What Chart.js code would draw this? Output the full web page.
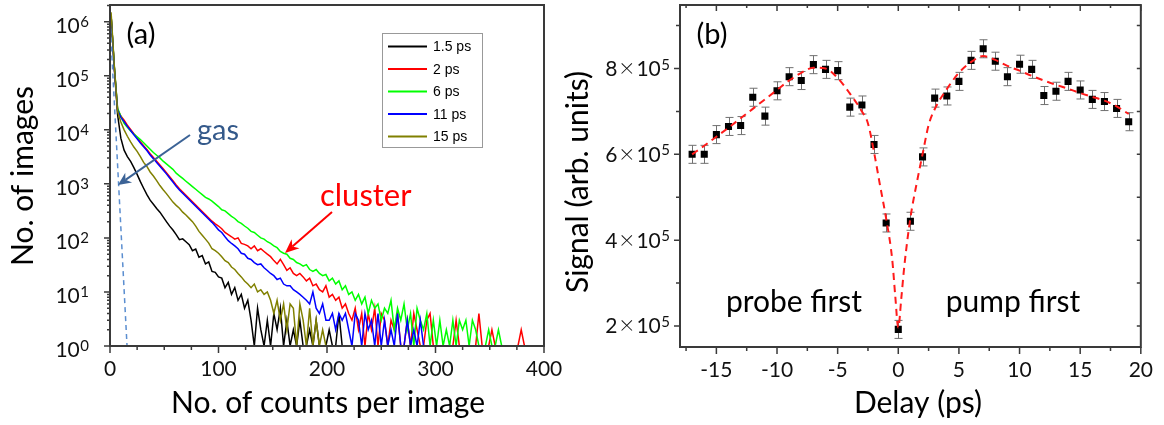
<!DOCTYPE html>
<html>
<head>
<meta charset="utf-8">
<title>Cluster histograms and delay scan</title>
<script src="https://cdn.jsdelivr.net/npm/chart.js@4.4.1/dist/chart.umd.min.js"></script>
<style>
  body { margin: 0; background: #fff; }
  #wrap { position: relative; width: 1164px; height: 425px; overflow: hidden; }
  .panel { position: absolute; top: 0; height: 425px; }
</style>
</head>
<body>
<div id="wrap">
  <div class="panel" style="left:0;width:580px"><canvas id="histChart"></canvas></div>
  <div class="panel" style="left:550px;width:614px"><canvas id="delayChart"></canvas></div>
</div>
<script>
// ---- panel (a): histograms of counts per image ----
// bin centres (No. of counts per image), one value every 3 counts
const countBins = Array.from({ length: 129 }, (_, i) => 1 + 3 * i);

const seriesLabels = ['1.5 ps', '2 ps', '6 ps', '11 ps', '15 ps'];
const seriesColors = ['#000000', '#ff0000', '#00ff00', '#0000ff', '#808000'];

const images1p5ps = [1300000, 140000, 19000, 7000, 4200, 3200, 2600, 2000, 1500, 1100,
  830, 630, 500, 420, 350, 300, 245, 200, 165, 140,
  115, 93, 96, 85, 75, 58, 62, 44, 47, 33,
  36, 24, 23, 19, 18, 12, 15, 9, 12, 7,
  9, 5, 7, 3, 1, 5, 2, 1, 3, 1,
  4, 2, 5, 1, 3, 1, 2, 1, 3, 1,
  1, 2, 1, 3, 1, 1, 1, 2, 1, 1,
  4, 1];

const images2ps = [1300000, 140000, 24000, 18000, 15000, 12200, 10200, 8500, 7200, 6000,
  5100, 4350, 3600, 3080, 2620, 2230, 1900, 1610, 1350, 1140,
  950, 810, 705, 615, 535, 466, 406, 354, 308, 268,
  234, 204, 182, 166, 148, 126, 115, 105, 95, 100,
  79, 76, 71, 63, 71, 58, 63, 56, 50, 45,
  38, 33, 40, 32, 25, 28, 22, 20, 22, 19,
  16, 18, 13, 14, 11, 10, 13, 8, 9, 7,
  8, 5, 6, 4, 3, 5, 2, 4, 1, 4,
  2, 5, 1, 4, 3, 1, 3, 2, 4, 1,
  1, 3, 1, 4, 2, 1, 1, 3, 4, 1,
  1, 1, 1, 1, 1, 1, 3, 1, 1, 1,
  1, 1, 1, 4, 1, 1, 1, 2, 1, 1,
  1, 1, 1, 1, 1, 1, 2, 1];

const images6ps = [1300000, 145000, 25000, 17800, 13200, 11200, 9550, 8300, 7400, 6600,
  5750, 5000, 4370, 3800, 3390, 3020, 2630, 2340, 2090, 1860,
  1580, 1410, 1260, 1120, 1000, 890, 794, 708, 631, 562,
  525, 479, 427, 380, 331, 316, 282, 251, 229, 200,
  186, 166, 151, 132, 126, 112, 100, 95, 85, 79,
  71, 66, 56, 52, 50, 42, 40, 35, 33, 30,
  32, 26, 24, 26, 22, 20, 21, 16, 18, 14,
  16, 11, 13, 9, 10, 7, 9, 6, 8, 4,
  7, 5, 6, 3, 5, 4, 7, 2, 5, 3,
  6, 2, 4, 1, 5, 3, 2, 4, 1, 3,
  1, 3, 1, 2, 1, 3, 1, 3, 2, 3,
  1, 3, 2, 1, 1, 1, 2, 1, 1, 2,
  1, 1, 1, 1, 1, 1, 1, 1];

const images11ps = [1250000, 135000, 23000, 17000, 14200, 11600, 9700, 8100, 6850, 5700,
  4850, 4130, 3420, 2930, 2490, 2120, 1800, 1530, 1280, 1080,
  900, 770, 670, 585, 510, 443, 386, 336, 293, 255,
  222, 194, 166, 141, 126, 105, 89, 79, 71, 63,
  52, 50, 42, 40, 35, 32, 33, 28, 25, 22,
  20, 17, 18, 14, 13, 13, 11, 10, 9, 8,
  7, 6, 10, 5, 4, 6, 3, 3, 4, 2,
  4, 3, 4, 2, 1, 4, 3, 1, 4, 2,
  3, 1, 4, 1, 3, 1, 2, 1, 4, 1,
  1, 3, 1, 2, 1, 3, 1];

const images15ps = [1500000, 150000, 22000, 14000, 10000, 7600, 6000, 4800, 4000, 3200,
  2500, 2100, 1660, 1400, 1150, 930, 780, 660, 550, 460,
  400, 355, 300, 265, 230, 200, 165, 132, 112, 95,
  80, 63, 58, 52, 45, 38, 35, 29, 26, 22,
  19, 16, 14, 12, 14, 10, 11, 9, 10, 7,
  4, 7, 3, 6, 2, 6, 5, 1, 6, 3,
  1, 5, 1, 3, 1, 2, 1];

const histSeries = [images1p5ps, images2ps, images6ps, images11ps, images15ps];

// gas contribution (dashed guide)
const gasCounts = [0, 15.7];
const gasImages = [1100000, 1];

const histTicks = [0, 100, 200, 300, 400];
const histDecades = [0, 1, 2, 3, 4, 5, 6];

// ---- panel (b): signal vs delay ----
const delays = [-17, -16, -15, -14, -13, -12, -11, -10, -9, -8, -7, -6, -5, -4, -3, -2, -1,
  0, 1, 2, 3, 4, 5, 6, 7, 8, 9, 10, 11, 12, 13, 14, 15, 16, 17, 18, 19];
const signal = [600000, 600000, 646000, 665000, 667000, 733000, 689000, 748000, 781000, 772000,
  809000, 798000, 795000, 710000, 715000, 623000, 440000,
  192000, 444000, 594000, 731000, 736000, 770000, 819000, 846000, 817000, 781000,
  810000, 798000, 737000, 747000, 770000, 750000, 728000, 723000, 707000, 676000];
const signalErr = [21000, 21000, 21000, 21000, 21000, 21000, 21000, 21000, 21000, 21000,
  21000, 21000, 21000, 21000, 21000, 21000, 21000,
  21000, 21000, 21000, 21000, 21000, 21000, 21000, 21000, 21000, 21000,
  21000, 21000, 21000, 21000, 21000, 21000, 21000, 21000, 21000, 21000];

const fitDelay = [-17, -16, -15, -14, -13, -12, -11, -10, -9, -8, -7, -6, -5, -4, -3, -2.5, -2, -1.5,
  -1, -0.5, -0.25, 0, 0.25, 0.5, 1, 1.5, 2, 2.5, 3, 4, 5, 6, 7, 8, 9, 10, 11, 12, 13, 14, 15, 16, 17, 18, 19];
const fitSignal = [600000, 620000, 641000, 662000, 684000, 706000, 728000, 750000, 772000, 790000,
  802000, 800000, 778000, 742000, 700000, 672000, 605000, 527000,
  450000, 355000, 270000, 196000, 265000, 340000, 452000, 530000, 600000, 668000, 705000, 752000,
  790000, 815000, 829000, 820000, 806000, 795000, 783000, 772000, 762000, 753000, 743000, 734000,
  725000, 712000, 694000];

const delayTicks = [-15, -10, -5, 0, 5, 10, 15, 20];
const signalTicks = [200000, 400000, 600000, 800000];

Chart.defaults.font.family = 'Lato';

function toPoints(xs, ys) {
  return ys.map((y, i) => ({ x: xs[i], y: y }));
}

function drawArrow(ctx, x1, y1, x2, y2, color, len, half) {
  const a = Math.atan2(y2 - y1, x2 - x1);
  const c = Math.cos(a), s = Math.sin(a);
  ctx.strokeStyle = color;
  ctx.fillStyle = color;
  ctx.lineWidth = 2;
  ctx.beginPath();
  ctx.moveTo(x1, y1);
  ctx.lineTo(x2 - len * 0.7 * c, y2 - len * 0.7 * s);
  ctx.stroke();
  ctx.beginPath();
  ctx.moveTo(x2, y2);
  ctx.lineTo(x2 - len * c + half * s, y2 - len * s - half * c);
  ctx.lineTo(x2 - len * 0.7 * c, y2 - len * 0.7 * s);
  ctx.lineTo(x2 - len * c - half * s, y2 - len * s + half * c);
  ctx.closePath();
  ctx.fill();
}

// "10^n" or "m×10^n" labels, right aligned
function drawPowLabel(ctx, mantissa, exponent, right, tickY, baseOff, supOff) {
  ctx.fillStyle = '#111';
  ctx.textBaseline = 'alphabetic';
  ctx.font = '15px Lato';
  const supW = ctx.measureText(exponent).width;
  ctx.textAlign = 'left';
  ctx.fillText(exponent, right - supW, tickY + supOff);
  ctx.font = '21px Lato';
  ctx.textAlign = 'right';
  let x = right - supW - 0.5;
  ctx.fillText('10', x, tickY + baseOff);
  if (mantissa) {
    x -= ctx.measureText('10').width + 2;
    ctx.font = '300 26px Lato';
    ctx.fillText('\u00d7', x, tickY + baseOff + 1);
    x -= ctx.measureText('\u00d7').width + 2;
    ctx.font = '21px Lato';
    ctx.fillText(mantissa, x, tickY + baseOff);
  }
}

function drawRotated(ctx, text, x, y, font) {
  ctx.save();
  ctx.translate(x, y);
  ctx.rotate(-Math.PI / 2);
  ctx.font = font;
  ctx.textAlign = 'center';
  ctx.textBaseline = 'alphabetic';
  ctx.fillText(text, 0, 0);
  ctx.restore();
}

const histDecor = {
  id: 'histDecor',
  afterDraw(chart) {
    const { ctx, chartArea: a, scales: { x, y } } = chart;
    ctx.save();
    ctx.strokeStyle = '#3a3a3a';
    ctx.lineWidth = 1.5;
    ctx.beginPath();
    histDecades.forEach(e => {
      for (let m = 1; m <= 9; m++) {
        const v = m * Math.pow(10, e);
        if (v > y.max) break;
        const py = y.getPixelForValue(v);
        const len = m === 1 ? 6 : 3;
        ctx.moveTo(a.left - len, py);
        ctx.lineTo(a.left, py);
      }
    });
    for (let c = 0; c <= 400; c += 25) {
      const px = x.getPixelForValue(c);
      const len = c % 100 === 0 ? 7 : 4;
      ctx.moveTo(px, a.bottom);
      ctx.lineTo(px, a.bottom + len);
    }
    ctx.stroke();
    ctx.lineWidth = 2;
    ctx.strokeRect(a.left, a.top, a.right - a.left, a.bottom - a.top);

    // y tick labels
    histDecades.forEach(e => {
      drawPowLabel(ctx, null, String(e), 89, y.getPixelForValue(Math.pow(10, e)), 11, 5);
    });

    // axis titles
    ctx.fillStyle = '#000';
    drawRotated(ctx, 'No. of images', 33, 176, '30px Lato');
    ctx.font = '30px Lato';
    ctx.textAlign = 'center';
    ctx.textBaseline = 'alphabetic';
    ctx.fillText('No. of counts per image', 328, 413);

    // panel letter
    ctx.font = '29px Lato';
    ctx.fillText('(a)', 141, 44);

    // legend box
    ctx.fillStyle = '#fff';
    ctx.fillRect(382, 33, 100, 114);
    ctx.strokeStyle = '#999';
    ctx.lineWidth = 1;
    ctx.strokeRect(382.5, 33.5, 100, 114);
    ctx.font = '14px "Liberation Sans"';
    ctx.textAlign = 'left';
    ctx.textBaseline = 'middle';
    seriesLabels.forEach((lab, i) => {
      const ly = 46.5 + i * 22.5;
      ctx.strokeStyle = seriesColors[i];
      ctx.lineWidth = 2;
      ctx.beginPath();
      ctx.moveTo(388, ly);
      ctx.lineTo(427, ly);
      ctx.stroke();
      ctx.fillStyle = '#000';
      ctx.fillText(lab, 433, ly + 1);
    });

    // annotations
    ctx.textBaseline = 'alphabetic';
    ctx.font = '29px Lato';
    ctx.fillStyle = '#34598a';
    ctx.fillText('gas', 197, 140);
    drawArrow(ctx, 190, 135, 118, 185, '#3c6396', 13, 6);
    ctx.font = '31px Lato';
    ctx.fillStyle = '#ff0000';
    ctx.fillText('cluster', 320, 206);
    drawArrow(ctx, 332, 212, 285, 253, '#ff0000', 14, 6);
    ctx.restore();
  }
};

const histDatasets = histSeries.map((vals, i) => ({
  label: seriesLabels[i],
  data: toPoints(countBins, vals),
  borderColor: seriesColors[i],
  borderWidth: 1.5,
  pointRadius: 0,
  tension: 0,
  order: 5 - i
}));
histDatasets.push({
  label: 'gas',
  data: toPoints(gasCounts, gasImages),
  borderColor: '#5b8ed0',
  borderWidth: 1.5,
  borderDash: [5, 4],
  pointRadius: 0,
  order: 0
});

new Chart(document.getElementById('histChart').getContext('2d'), {
  type: 'line',
  data: { datasets: histDatasets },
  options: {
    responsive: true,
    maintainAspectRatio: false,
    animation: false,
    devicePixelRatio: 1,
    layout: { padding: { left: 0, right: 36, top: 5, bottom: 0 } },
    plugins: { legend: { display: false }, tooltip: { enabled: false } },
    scales: {
      x: {
        type: 'linear',
        min: 0,
        max: 400,
        grid: { display: false, drawTicks: false, tickLength: 0 },
        border: { display: false },
        afterBuildTicks: s => { s.ticks = histTicks.map(v => ({ value: v })); },
        afterFit: s => { s.height = 79; },
        ticks: { font: { size: 21 }, color: '#111', padding: 11, maxRotation: 0, autoSkip: false }
      },
      y: {
        type: 'logarithmic',
        min: 1,
        max: 2040000,
        grid: { display: false, drawTicks: false, tickLength: 0 },
        border: { display: false },
        ticks: { display: false },
        afterFit: s => { s.width = 110; }
      }
    }
  },
  plugins: [histDecor]
});

// ---- panel (b) ----
const delayDecor = {
  id: 'delayDecor',
  beforeDatasetsDraw(chart) {
    const { ctx, scales: { x, y } } = chart;
    ctx.save();
    ctx.strokeStyle = '#707070';
    ctx.lineWidth = 1;
    ctx.beginPath();
    delays.forEach((d, i) => {
      const px = Math.round(x.getPixelForValue(d)) + 0.5;
      const top = y.getPixelForValue(signal[i] + signalErr[i]);
      const bot = y.getPixelForValue(signal[i] - signalErr[i]);
      ctx.moveTo(px, top); ctx.lineTo(px, bot);
      ctx.moveTo(px - 4, top); ctx.lineTo(px + 4, top);
      ctx.moveTo(px - 4, bot); ctx.lineTo(px + 4, bot);
    });
    ctx.stroke();
    ctx.restore();
  },
  afterDraw(chart) {
    const { ctx, chartArea: a, scales: { x, y } } = chart;
    ctx.save();
    ctx.strokeStyle = '#3a3a3a';
    ctx.lineWidth = 1.5;
    ctx.beginPath();
    for (let d = -17.5; d <= 20; d += 2.5) {
      const px = x.getPixelForValue(d);
      const major = d % 5 === 0;
      ctx.moveTo(px, a.bottom); ctx.lineTo(px, a.bottom + (major ? 7 : 4));
      ctx.moveTo(px, a.top); ctx.lineTo(px, a.top + (major ? 6 : 3));
    }
    for (let v = 200000; v <= 900000; v += 100000) {
      const py = y.getPixelForValue(v);
      const major = v % 200000 === 0;
      ctx.moveTo(a.left - (major ? 6 : 4), py); ctx.lineTo(a.left, py);
      ctx.moveTo(a.right - 4, py); ctx.lineTo(a.right, py);
    }
    ctx.stroke();
    ctx.lineWidth = 2;
    ctx.strokeRect(a.left, a.top, a.right - a.left, a.bottom - a.top);

    signalTicks.forEach(v => {
      drawPowLabel(ctx, String(v / 100000), '5', a.left - 10, y.getPixelForValue(v), 7.5, 1);
    });

    ctx.fillStyle = '#000';
    drawRotated(ctx, 'Signal (arb. units)', 38, 182, '30px Lato');
    ctx.font = '30px Lato';
    ctx.textAlign = 'center';
    ctx.textBaseline = 'alphabetic';
    ctx.fillText('Delay (ps)', 368, 413);
    ctx.font = '29px Lato';
    ctx.fillText('(b)', 162, 44);
    ctx.font = '30px Lato';
    ctx.fillText('probe first', 244, 312);
    ctx.fillText('pump first', 463, 312);
    ctx.restore();
  }
};

new Chart(document.getElementById('delayChart').getContext('2d'), {
  type: 'line',
  data: {
    datasets: [
      {
        label: 'fit',
        data: toPoints(fitDelay, fitSignal),
        borderColor: '#ff1a1a',
        borderWidth: 2,
        borderDash: [7, 5],
        pointRadius: 0,
        cubicInterpolationMode: 'monotone',
        order: 0
      },
      {
        label: 'signal',
        data: toPoints(delays, signal),
        showLine: false,
        pointStyle: 'rect',
        pointRadius: 5,
        pointBackgroundColor: '#000',
        pointBorderColor: '#000',
        pointBorderWidth: 0,
        order: 1
      }
    ]
  },
  options: {
    responsive: true,
    maintainAspectRatio: false,
    animation: false,
    devicePixelRatio: 1,
    layout: { padding: { left: 0, right: 17, top: 4, bottom: 0 } },
    plugins: { legend: { display: false }, tooltip: { enabled: false } },
    scales: {
      x: {
        type: 'linear',
        min: -18,
        max: 20,
        grid: { display: false, drawTicks: false, tickLength: 0 },
        border: { display: false },
        afterBuildTicks: s => { s.ticks = delayTicks.map(v => ({ value: v })); },
        afterFit: s => { s.height = 78; },
        ticks: { font: { size: 21 }, color: '#111', padding: 11, maxRotation: 0, autoSkip: false }
      },
      y: {
        type: 'linear',
        min: 151000,
        max: 948000,
        grid: { display: false, drawTicks: false, tickLength: 0 },
        border: { display: false },
        ticks: { display: false },
        afterFit: s => { s.width = 130; }
      }
    }
  },
  plugins: [delayDecor]
});
</script>
</body>
</html>
